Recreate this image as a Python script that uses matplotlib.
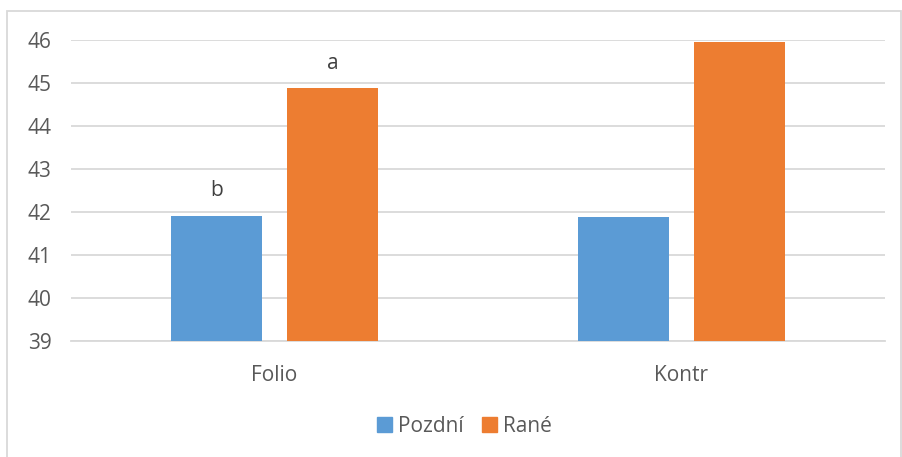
import matplotlib
matplotlib.use("Agg")
import matplotlib.pyplot as plt
import matplotlib.patches as mpatches
import numpy as np

categories = ["Folio", "Kontr"]
series_names = ["Pozdní", "Rané"]
pozdni = [41.91, 41.88]
rane = [44.88, 45.95]
letters_pozdni = ["b", ""]
letters_rane = ["a", ""]
colors = ["#5B9BD5", "#ED7D31"]

plt.rcParams["font.family"] = ["Open Sans", "DejaVu Sans"]
txt = "#595959"
grid = "#D9D9D9"

fig = plt.figure(figsize=(9.02, 4.57), dpi=100)
W, H = 902.0, 457.0
ax = fig.add_axes([71 / W, 1 - 341 / H, (885 - 71) / W, (341 - 40) / H])

x = np.arange(len(categories))
bw = 0.2236
gap = 0.0614
off = (bw + gap) / 2
ax.bar(x - off, [v - 39 for v in pozdni], bw, bottom=39, color=colors[0], zorder=3)
ax.bar(x + off, [v - 39 for v in rane], bw, bottom=39, color=colors[1], zorder=3)

# significance letters above the Folio bars
for i in range(len(categories)):
    if letters_pozdni[i]:
        ax.text(x[i] - off, pozdni[i] + 0.58, letters_pozdni[i], ha="center", va="center",
                fontsize=15, color="#404040")
    if letters_rane[i]:
        ax.text(x[i] + off, rane[i] + 0.58, letters_rane[i], ha="center", va="center",
                fontsize=15, color="#404040")

ax.set_xlim(-0.5, 1.5)
ax.set_ylim(39, 46)
ax.set_yticks(range(39, 47))
ax.set_xticks(x)
ax.set_xticklabels(categories)
ax.tick_params(axis="both", length=0, labelsize=15, colors=txt)
ax.tick_params(axis="y", pad=14)
ax.tick_params(axis="x", pad=17)
ax.yaxis.grid(True, color=grid, linewidth=1.3, zorder=0)
for s in ["top", "right", "left"]:
    ax.spines[s].set_visible(False)
ax.spines["bottom"].set_color(grid)
ax.spines["bottom"].set_linewidth(1.3)

handles = [mpatches.Patch(color=c) for c in colors]
fig.legend(handles, series_names, loc="center", bbox_to_anchor=(464.5 / W, 1 - 426 / H),
           ncol=2, frameon=False, fontsize=15, labelcolor=txt,
           handlelength=0.7, handleheight=0.7, handletextpad=0.3, columnspacing=0.9)

frame = mpatches.Rectangle((7 / W, -0.05), (901 - 7) / W, 1.05 - 11 / H,
                           transform=fig.transFigure, fill=False, edgecolor=grid,
                           linewidth=1.3)
fig.patches.append(frame)

fig.savefig("out.png", dpi=100)
